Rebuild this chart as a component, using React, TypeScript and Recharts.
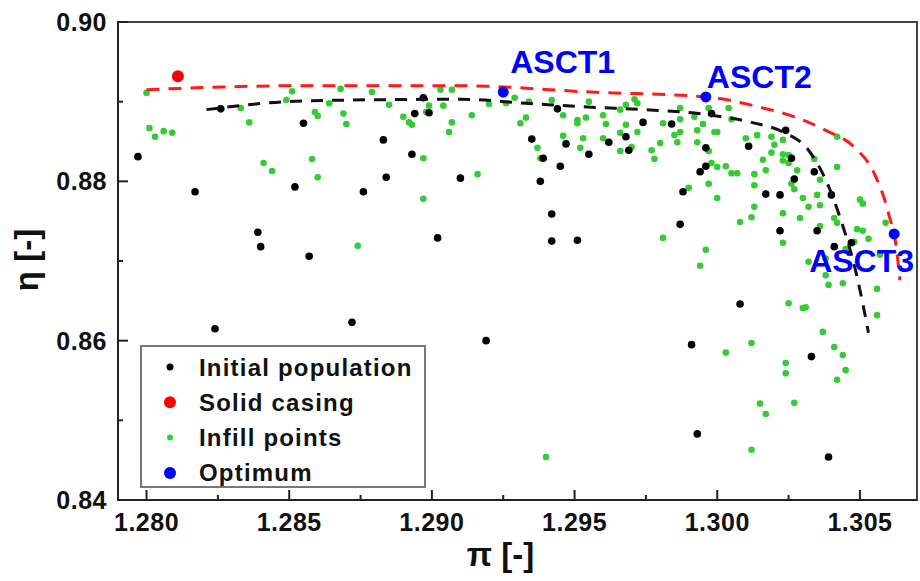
import { ScatterChart, Scatter, XAxis, YAxis, ReferenceArea, Legend } from 'recharts';

const FONT = '"Liberation Sans", Arial, sans-serif';

// pi [-], eta [-]
const INITIAL_POP: [number, number][] = [
  [1.2797, 0.8831], [1.2817, 0.8787], [1.2826, 0.8891], [1.2839, 0.8736], [1.2840, 0.8718],
  [1.2824, 0.8615], [1.2852, 0.8793], [1.2855, 0.8873], [1.2857, 0.8706], [1.2872, 0.8623],
  [1.2876, 0.8787], [1.2883, 0.8852], [1.2884, 0.8805], [1.2893, 0.8834], [1.2894, 0.8885],
  [1.2899, 0.8886], [1.2897, 0.8905], [1.2902, 0.8729], [1.2910, 0.8804], [1.2919, 0.8600],
  [1.2935, 0.8853], [1.2944, 0.8891], [1.2947, 0.8847], [1.2939, 0.8829], [1.2945, 0.8819],
  [1.2938, 0.8800], [1.2955, 0.8834], [1.2962, 0.8849], [1.2968, 0.8856], [1.2969, 0.8839],
  [1.2974, 0.8874], [1.2942, 0.8759], [1.2942, 0.8725], [1.2951, 0.8726], [1.2984, 0.8872],
  [1.2987, 0.8746], [1.2988, 0.8787], [1.2994, 0.8812], [1.2996, 0.8819], [1.2996, 0.8842],
  [1.2998, 0.8885], [1.2991, 0.8595], [1.2993, 0.8483], [1.3008, 0.8646], [1.3011, 0.8844],
  [1.3017, 0.8784], [1.3022, 0.8783], [1.3024, 0.8864], [1.3026, 0.8829], [1.3027, 0.8803],
  [1.3034, 0.8812], [1.3040, 0.8783], [1.3022, 0.8738], [1.3035, 0.8738], [1.3041, 0.8718],
  [1.3047, 0.8723], [1.3033, 0.8580], [1.3039, 0.8454],
];

const INFILL: [number, number][] = [
  [1.2800, 0.8911], [1.2801, 0.8867], [1.2803, 0.8856], [1.2806, 0.8863], [1.2809, 0.8861],
  [1.2833, 0.8892], [1.2836, 0.8874], [1.2841, 0.8823], [1.2844, 0.8813], [1.2849, 0.8902],
  [1.2851, 0.8913], [1.2859, 0.8887], [1.2860, 0.8882], [1.2858, 0.8828], [1.2860, 0.8805],
  [1.2864, 0.8898], [1.2868, 0.8916], [1.2869, 0.8885], [1.2870, 0.8872], [1.2874, 0.8719],
  [1.2879, 0.8912], [1.2885, 0.8896], [1.2890, 0.8881], [1.2892, 0.8874], [1.2893, 0.8871],
  [1.2897, 0.8829], [1.2897, 0.8778], [1.2898, 0.8887], [1.2899, 0.8895], [1.2903, 0.8915],
  [1.2904, 0.8895], [1.2907, 0.8915], [1.2907, 0.8874], [1.2906, 0.8862], [1.2914, 0.8883],
  [1.2916, 0.8809], [1.2920, 0.8897], [1.2926, 0.8898], [1.2929, 0.8905], [1.2934, 0.8900],
  [1.2931, 0.8873], [1.2933, 0.8880], [1.2942, 0.8902], [1.2946, 0.8883], [1.2951, 0.8877],
  [1.2954, 0.8880], [1.2951, 0.8873], [1.2955, 0.8900], [1.2960, 0.8883], [1.2961, 0.8872],
  [1.2946, 0.8857], [1.2953, 0.8854], [1.2960, 0.8854], [1.2966, 0.8861], [1.2968, 0.8871],
  [1.2972, 0.8862], [1.2966, 0.8890], [1.2968, 0.8896], [1.2971, 0.8903], [1.2972, 0.8898],
  [1.2952, 0.8842], [1.2937, 0.8842], [1.2938, 0.8829], [1.2970, 0.8843], [1.2966, 0.8838],
  [1.2977, 0.8839], [1.2980, 0.8848], [1.2978, 0.8828], [1.2981, 0.8873], [1.2987, 0.8892],
  [1.2987, 0.8878], [1.2985, 0.8858], [1.2986, 0.8849], [1.2987, 0.8862], [1.2992, 0.8881],
  [1.2995, 0.8872], [1.2993, 0.8864], [1.2993, 0.8849], [1.2997, 0.8892], [1.2997, 0.8838],
  [1.2998, 0.8823], [1.2997, 0.8797], [1.2990, 0.8792], [1.2999, 0.8862], [1.3000, 0.8818],
  [1.2981, 0.8729], [1.2996, 0.8714], [1.2994, 0.8694], [1.2940, 0.8454], [1.3000, 0.8862],
  [1.3003, 0.8819], [1.3004, 0.8892], [1.3005, 0.8878], [1.3005, 0.8810], [1.3007, 0.8810],
  [1.3010, 0.8854], [1.3014, 0.8858], [1.3019, 0.8856], [1.3020, 0.8846], [1.3023, 0.8852],
  [1.3019, 0.8836], [1.3023, 0.8834], [1.3025, 0.8833], [1.3023, 0.8826], [1.3016, 0.8827],
  [1.3017, 0.8814], [1.3013, 0.8809], [1.3025, 0.8823], [1.3028, 0.8814], [1.3034, 0.8828],
  [1.3042, 0.8856], [1.3042, 0.8818], [1.3013, 0.8795], [1.3026, 0.8797], [1.3030, 0.8779],
  [1.3035, 0.8783], [1.3036, 0.8802], [1.3050, 0.8777], [1.3051, 0.8772], [1.3027, 0.8790],
  [1.3032, 0.8768], [1.3036, 0.8770], [1.3013, 0.8768], [1.3012, 0.8755], [1.3008, 0.8749],
  [1.3023, 0.8760], [1.3029, 0.8754], [1.3036, 0.8744], [1.3041, 0.8754], [1.3042, 0.8748],
  [1.3059, 0.8748], [1.3049, 0.8740], [1.3051, 0.8738], [1.3053, 0.8728], [1.3048, 0.8724],
  [1.3045, 0.8715], [1.3023, 0.8723], [1.3032, 0.8699], [1.3038, 0.8703], [1.3038, 0.8682],
  [1.3039, 0.8670], [1.3044, 0.8672], [1.3056, 0.8665], [1.3057, 0.8708], [1.3056, 0.8632],
  [1.3025, 0.8647], [1.3030, 0.8641], [1.3031, 0.8642], [1.3037, 0.8611], [1.3041, 0.8592],
  [1.3012, 0.8597], [1.3003, 0.8585], [1.3024, 0.8572], [1.3024, 0.8559], [1.3044, 0.8582],
  [1.3045, 0.8563], [1.3042, 0.8551], [1.3015, 0.8521], [1.3017, 0.8508], [1.3027, 0.8522],
  [1.3012, 0.8463], [1.3000, 0.8779],
];

const SOLID_CASING: [number, number][] = [[1.2811, 0.8932]];

const OPTIMUM_NAMES = ['ASCT1', 'ASCT2', 'ASCT3'];
const OPTIMUM: [number, number][] = [[1.2925, 0.8912], [1.2996, 0.8906], [1.3062, 0.8734]];

// dashed fronts
const RED_FRONT: [number, number][] = [
  [1.2800, 0.8915], [1.2854, 0.8920], [1.2910, 0.8920], [1.2956, 0.8912], [1.2996, 0.8906],
  [1.3015, 0.8893], [1.3027, 0.8881], [1.3038, 0.8864], [1.3048, 0.8843], [1.3055, 0.8810],
  [1.3060, 0.8760], [1.3063, 0.8710], [1.3064, 0.8676],
];
const BLACK_FRONT: [number, number][] = [
  [1.2821, 0.8890], [1.2849, 0.8900], [1.2871, 0.8902], [1.2910, 0.8903], [1.2933, 0.8898],
  [1.2956, 0.8893], [1.2975, 0.8890], [1.2998, 0.8883], [1.3012, 0.8874], [1.3023, 0.8862],
  [1.3032, 0.8839], [1.3038, 0.8802], [1.3043, 0.8755], [1.3049, 0.8680], [1.3053, 0.8610],
];

const X_TICKS = [1.28, 1.2825, 1.285, 1.2875, 1.29, 1.2925, 1.295, 1.2975, 1.3, 1.3025, 1.305];
const Y_TICKS = [0.84, 0.85, 0.86, 0.87, 0.88, 0.89, 0.9];

const LEGEND_ITEMS = [
  { label: 'Initial population', color: '#000', r: 3.5 },
  { label: 'Solid casing', color: '#ff0000', r: 6 },
  { label: 'Infill points', color: '#33cc33', r: 3 },
  { label: 'Optimum', color: '#0000ff', r: 6 },
];

const LABEL_OFFSET: Record<string, [number, number]> = {
  ASCT1: [7, -19],
  ASCT2: [1, -9],
  ASCT3: [-85, 38],
};

const pts = (a: [number, number][], names?: string[]) =>
  a.map(([x, y], i) => ({ x, y, name: names ? names[i] : undefined }));

const dot = (color: string, r: number) => (p: any) =>
  <circle cx={p.cx} cy={p.cy} r={r} fill={color} />;

const noDot = () => <g />;

function XTick({ x, y, payload }: any) {
  const v = payload.value;
  const major = Math.round(v * 2000) % 10 === 0;
  return (
    <g>
      <line x1={x} x2={x} y1={y} y2={y - (major ? 10 : 5)} stroke="#222" strokeWidth={2} />
      {major && (
        <text x={x} y={y + 31} textAnchor="middle" fontFamily={FONT} fontWeight="bold" fontSize={25} fill="#111" letterSpacing={0.5}>
          {v.toFixed(3)}
        </text>
      )}
    </g>
  );
}

function YTick({ x, y, payload }: any) {
  const v = payload.value;
  const major = Math.round(v * 100) % 2 === 0;
  return (
    <g>
      <line x1={x} x2={x + (major ? 10 : 5)} y1={y} y2={y} stroke="#222" strokeWidth={2} />
      {major && (
        <text x={x - 11} y={y + 9} textAnchor="end" fontFamily={FONT} fontWeight="bold" fontSize={25} fill="#111" letterSpacing={0.5}>
          {v.toFixed(2)}
        </text>
      )}
    </g>
  );
}

function OptimumShape(p: any) {
  const name = p.payload?.name ?? p.name;
  const [dx, dy] = LABEL_OFFSET[name] ?? [0, 0];
  return (
    <g>
      <circle cx={p.cx} cy={p.cy} r={5.5} fill="#0000ff" />
      <text x={p.cx + dx} y={p.cy + dy} fontFamily={FONT} fontWeight="bold" fontSize={32} fill="#0000ff">
        {name}
      </text>
    </g>
  );
}

function LegendBox() {
  return (
    <svg width={286} height={143} style={{ display: 'block' }}>
      <rect x={1} y={1} width={284} height={141} fill="#fff" stroke="#777" strokeWidth={2} />
      {LEGEND_ITEMS.map((it, i) => {
        const cy = 22 + i * 35.3;
        return (
          <g key={it.label}>
            <circle cx={30} cy={cy} r={it.r} fill={it.color} />
            <text x={59} y={cy + 8.5} fontFamily={FONT} fontWeight="bold" fontSize={24} fill="#111" letterSpacing={1.2}>
              {it.label}
            </text>
          </g>
        );
      })}
    </svg>
  );
}

export default function App() {
  return (
    <div style={{ position: 'absolute', left: 0, top: 0, background: '#fff' }}>
      <ScatterChart width={920} height={581} margin={{ top: 22, right: 3, left: 0, bottom: 0 }}>
        <XAxis
          type="number" dataKey="x" domain={[1.279, 1.307]} ticks={X_TICKS} interval={0}
          allowDataOverflow height={81} tickLine={false} tickSize={0} tickMargin={0}
          axisLine={{ stroke: '#222', strokeWidth: 2 }} tick={<XTick />}
          label={({ viewBox }: any) => (
            <text x={viewBox.x + viewBox.width / 2 - 17} y={viewBox.y + 66} textAnchor="middle"
              fontFamily={FONT} fontWeight="bold" fontSize={33} fill="#111">π [-]</text>
          )}
        />
        <YAxis
          type="number" dataKey="y" domain={[0.84, 0.9]} ticks={Y_TICKS} interval={0}
          allowDataOverflow width={118} tickLine={false} tickSize={0} tickMargin={0}
          axisLine={{ stroke: '#222', strokeWidth: 2 }} tick={<YTick />}
          label={() => (
            <text x={38} y={260} transform="rotate(-90, 38, 260)" textAnchor="middle"
              fontFamily={FONT} fontWeight="bold" fontSize={33} fill="#111">η [-]</text>
          )}
        />
        <ReferenceArea x1={1.279} x2={1.307} y1={0.84} y2={0.9} fill="none" stroke="#444" strokeWidth={2} ifOverflow="visible" />
        <Scatter name="Infill points" data={pts(INFILL)} shape={dot('#33cc33', 3.3)} isAnimationActive={false} />
        <Scatter name="Initial population" data={pts(INITIAL_POP)} shape={dot('#000', 3.8)} isAnimationActive={false} />
        <Scatter data={pts(BLACK_FRONT)} shape={noDot} line={{ stroke: '#111', strokeWidth: 3, strokeDasharray: '12 9' }}
          lineJointType="monotoneX" legendType="none" isAnimationActive={false} />
        <Scatter data={pts(RED_FRONT)} shape={noDot} line={{ stroke: '#ff1a1a', strokeWidth: 3, strokeDasharray: '13 9' }}
          lineJointType="monotoneX" legendType="none" isAnimationActive={false} />
        <Scatter name="Solid casing" data={pts(SOLID_CASING)} shape={dot('#ff0000', 6)} isAnimationActive={false} />
        <Scatter name="Optimum" data={pts(OPTIMUM, OPTIMUM_NAMES)} shape={OptimumShape} isAnimationActive={false} />
        <Legend layout="vertical" align="center" verticalAlign="middle" content={LegendBox}
          wrapperStyle={{ position: 'absolute', left: 140, top: 345, width: 286, height: 143 }} />
      </ScatterChart>
    </div>
  );
}
